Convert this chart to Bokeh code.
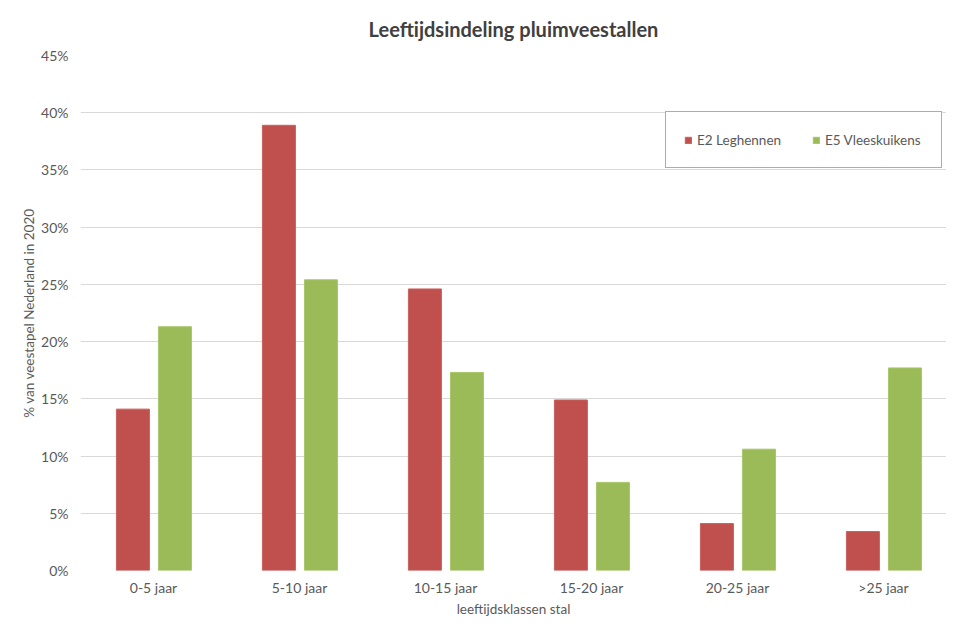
from bokeh.plotting import figure
from bokeh.models import ColumnDataSource, Range1d, FixedTicker, PrintfTickFormatter, Legend, LegendItem
from bokeh.transform import dodge
from bokeh.embed import file_html
from bokeh.resources import INLINE

categories = ["0-5 jaar", "5-10 jaar", "10-15 jaar", "15-20 jaar", "20-25 jaar", ">25 jaar"]
leghennen = [14.1, 38.9, 24.6, 14.9, 4.1, 3.4]
vleeskuikens = [21.3, 25.4, 17.3, 7.7, 10.6, 17.7]
y_ticks = [0, 5, 10, 15, 20, 25, 30, 35, 40, 45]

FONT = "Lato"
TXT = "#595959"

src = ColumnDataSource(dict(idx=list(range(len(categories))), cat=categories,
                            e2=leghennen, e5=vleeskuikens))

# frame: 866 px wide at 146 px per category
p = figure(width=946, height=619, output_backend="svg", toolbar_location=None,
           x_range=Range1d(-0.5, -0.5 + 866 / 146), y_range=Range1d(0, 45),
           min_border_left=80, min_border_right=0, min_border_top=55, min_border_bottom=48)
p.outline_line_color = None
p.background_fill_color = "white"
p.border_fill_color = "white"

p.title.text = "Leeftijdsindeling pluimveestallen"
p.title.align = "center"
p.title.text_font = FONT
p.title.text_font_size = "20px"
p.title.text_font_style = "bold"
p.title.text_color = "#404040"
p.title.standoff = 29

r1 = p.vbar(x=dodge("idx", -0.141), top="e2", width=0.226, source=src,
            fill_color="#C0504D", line_color="#C8605D", line_width=1)
r2 = p.vbar(x=dodge("idx", 0.147), top="e5", width=0.226, source=src,
            fill_color="#9BBB59", line_color="#A8C66A", line_width=1)

# axes
p.xaxis.ticker = FixedTicker(ticks=list(range(len(categories))))
p.xaxis.major_label_overrides = {i: c for i, c in enumerate(categories)}
p.xaxis.axis_label = "leeftijdsklassen stal"
p.yaxis.ticker = FixedTicker(ticks=y_ticks)
p.yaxis.formatter = PrintfTickFormatter(format="%d%%")
p.yaxis.axis_label = "% van veestapel Nederland in 2020"

for ax in (p.xaxis[0], p.yaxis[0]):
    ax.axis_line_color = None
    ax.major_tick_line_color = None
    ax.minor_tick_line_color = None
    ax.major_tick_in = 0
    ax.major_tick_out = 0
    ax.major_label_text_font = FONT
    ax.major_label_text_font_size = "14px"
    ax.major_label_text_color = TXT
    ax.axis_label_text_font = FONT
    ax.axis_label_text_font_size = "13.5px"
    ax.axis_label_text_font_style = "normal"
    ax.axis_label_text_color = TXT

p.xaxis.major_label_standoff = 8
p.xaxis.axis_label_standoff = 2
p.yaxis.major_label_standoff = 12
p.yaxis.axis_label_standoff = 1

p.xgrid.grid_line_color = None
p.ygrid.ticker = FixedTicker(ticks=y_ticks)
p.ygrid.grid_line_color = "#D9D9D9"
p.ygrid.grid_line_width = 1

legend = Legend(items=[LegendItem(label="E2 Leghennen", renderers=[r1]),
                       LegendItem(label="E5 Vleeskuikens", renderers=[r2])],
                location=(585, 402), orientation="horizontal")
legend.glyph_width = 8
legend.glyph_height = 8
legend.label_standoff = 5
legend.label_width = 98
legend.label_height = 19
legend.spacing = 17
legend.padding = 18
legend.margin = 0
legend.label_text_font = FONT
legend.label_text_font_size = "13.5px"
legend.label_text_color = TXT
legend.border_line_color = "#595959"
legend.border_line_width = 1.5
legend.background_fill_color = "white"
legend.background_fill_alpha = 1
p.add_layout(legend, "center")

open("out.html", "w").write(file_html(p, INLINE))
